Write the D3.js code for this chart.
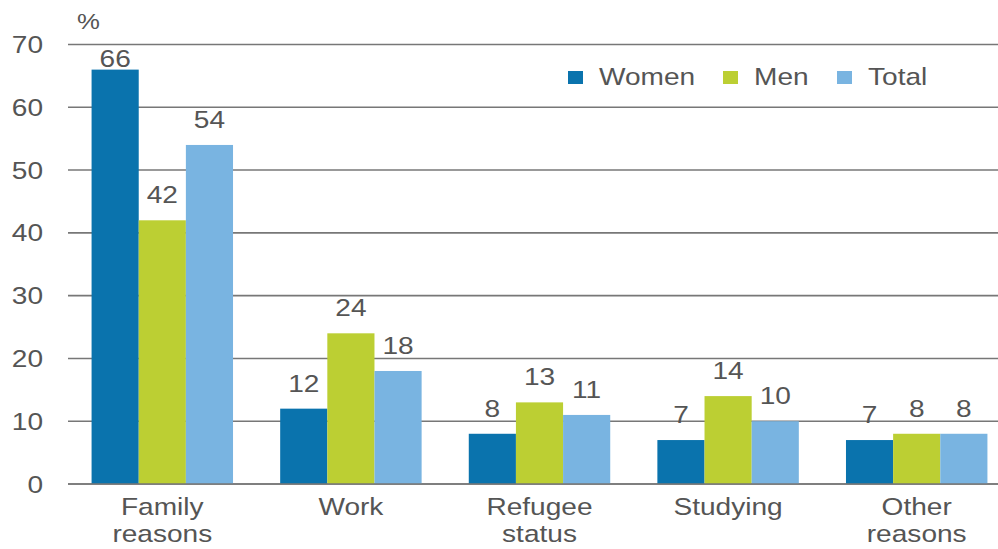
<!DOCTYPE html>
<html><head><meta charset="utf-8">
<script src="https://cdn.jsdelivr.net/npm/d3@7"></script>
<style>
html,body{margin:0;padding:0;background:#fff;}
svg{display:block;}
text{font-family:"Liberation Sans",Arial,sans-serif;fill:#555555;}
</style></head>
<body>
<svg id="chart" width="998" height="549"></svg>
<script>
const categories = [["Family","reasons"],["Work"],["Refugee","status"],["Studying"],["Other","reasons"]];
const seriesNames = ["Women","Men","Total"];
const women = [66,12,8,7,7];
const men = [42,24,13,14,8];
const total = [54,18,11,10,8];
const yTicks = [0,10,20,30,40,50,60,70];
const colors = ["#0a73ad","#bccf33","#79b4e1"];

const series = [women, men, total];
const svg = d3.select("#chart");
const W = 998, H = 549;
const fs = 24, sx = 1.17;

const y = d3.scaleLinear().domain([0,70]).range([484,44.5]);
const x0 = d3.scaleBand().domain(d3.range(categories.length)).range([68,1011]).paddingInner(0.25).paddingOuter(0.125);
const x1 = d3.scaleBand().domain(d3.range(seriesNames.length)).range([0,x0.bandwidth()]);

function txt(g, x, yy, s, anchor){
  return g.append("text").attr("transform",`translate(${x},${yy}) scale(${sx},1)`)
    .attr("text-anchor",anchor||"middle").attr("font-size",fs).text(s);
}

// gridlines
svg.append("g").selectAll("line").data(yTicks).join("line")
  .attr("x1",68).attr("x2",W).attr("y1",d=>y(d)).attr("y2",d=>y(d))
  .attr("stroke","#777777").attr("stroke-width",1.6);

// y tick labels
const yl = svg.append("g");
yTicks.forEach(t=>{ txt(yl,43,y(t)+8.5,String(t),"end"); });
txt(yl,77,29,"%","start").attr("font-size",22);

// bars
const bars = svg.append("g");
categories.forEach((c,i)=>{
  series.forEach((s,j)=>{
    bars.append("rect")
      .attr("x",x0(i)+x1(j)).attr("width",x1.bandwidth())
      .attr("y",y(s[i])).attr("height",y(0)-y(s[i]))
      .attr("fill",colors[j]);
  });
});
// baseline on top
svg.append("line").attr("x1",68).attr("x2",W).attr("y1",y(0)).attr("y2",y(0))
  .attr("stroke","#777777").attr("stroke-width",1.6);

// value labels
const vl = svg.append("g");
categories.forEach((c,i)=>{
  series.forEach((s,j)=>{
    const ly = Math.max(y(s[i])-17, y(70)+22);
    txt(vl, x0(i)+x1(j)+x1.bandwidth()/2, ly, String(s[i]));
  });
});

// category labels
const cl = svg.append("g");
categories.forEach((c,i)=>{
  c.forEach((line,k)=>{
    txt(cl, x0(i)+x0.bandwidth()/2, 515+k*27, line);
  });
});

// legend
const lg = svg.append("g");
const legX = [568,723,837];
seriesNames.forEach((n,j)=>{
  lg.append("rect").attr("x",legX[j]).attr("y",71).attr("width",15).attr("height",13).attr("fill",colors[j]);
  txt(lg, legX[j]+31, 85, n, "start");
});
</script>
</body></html>
